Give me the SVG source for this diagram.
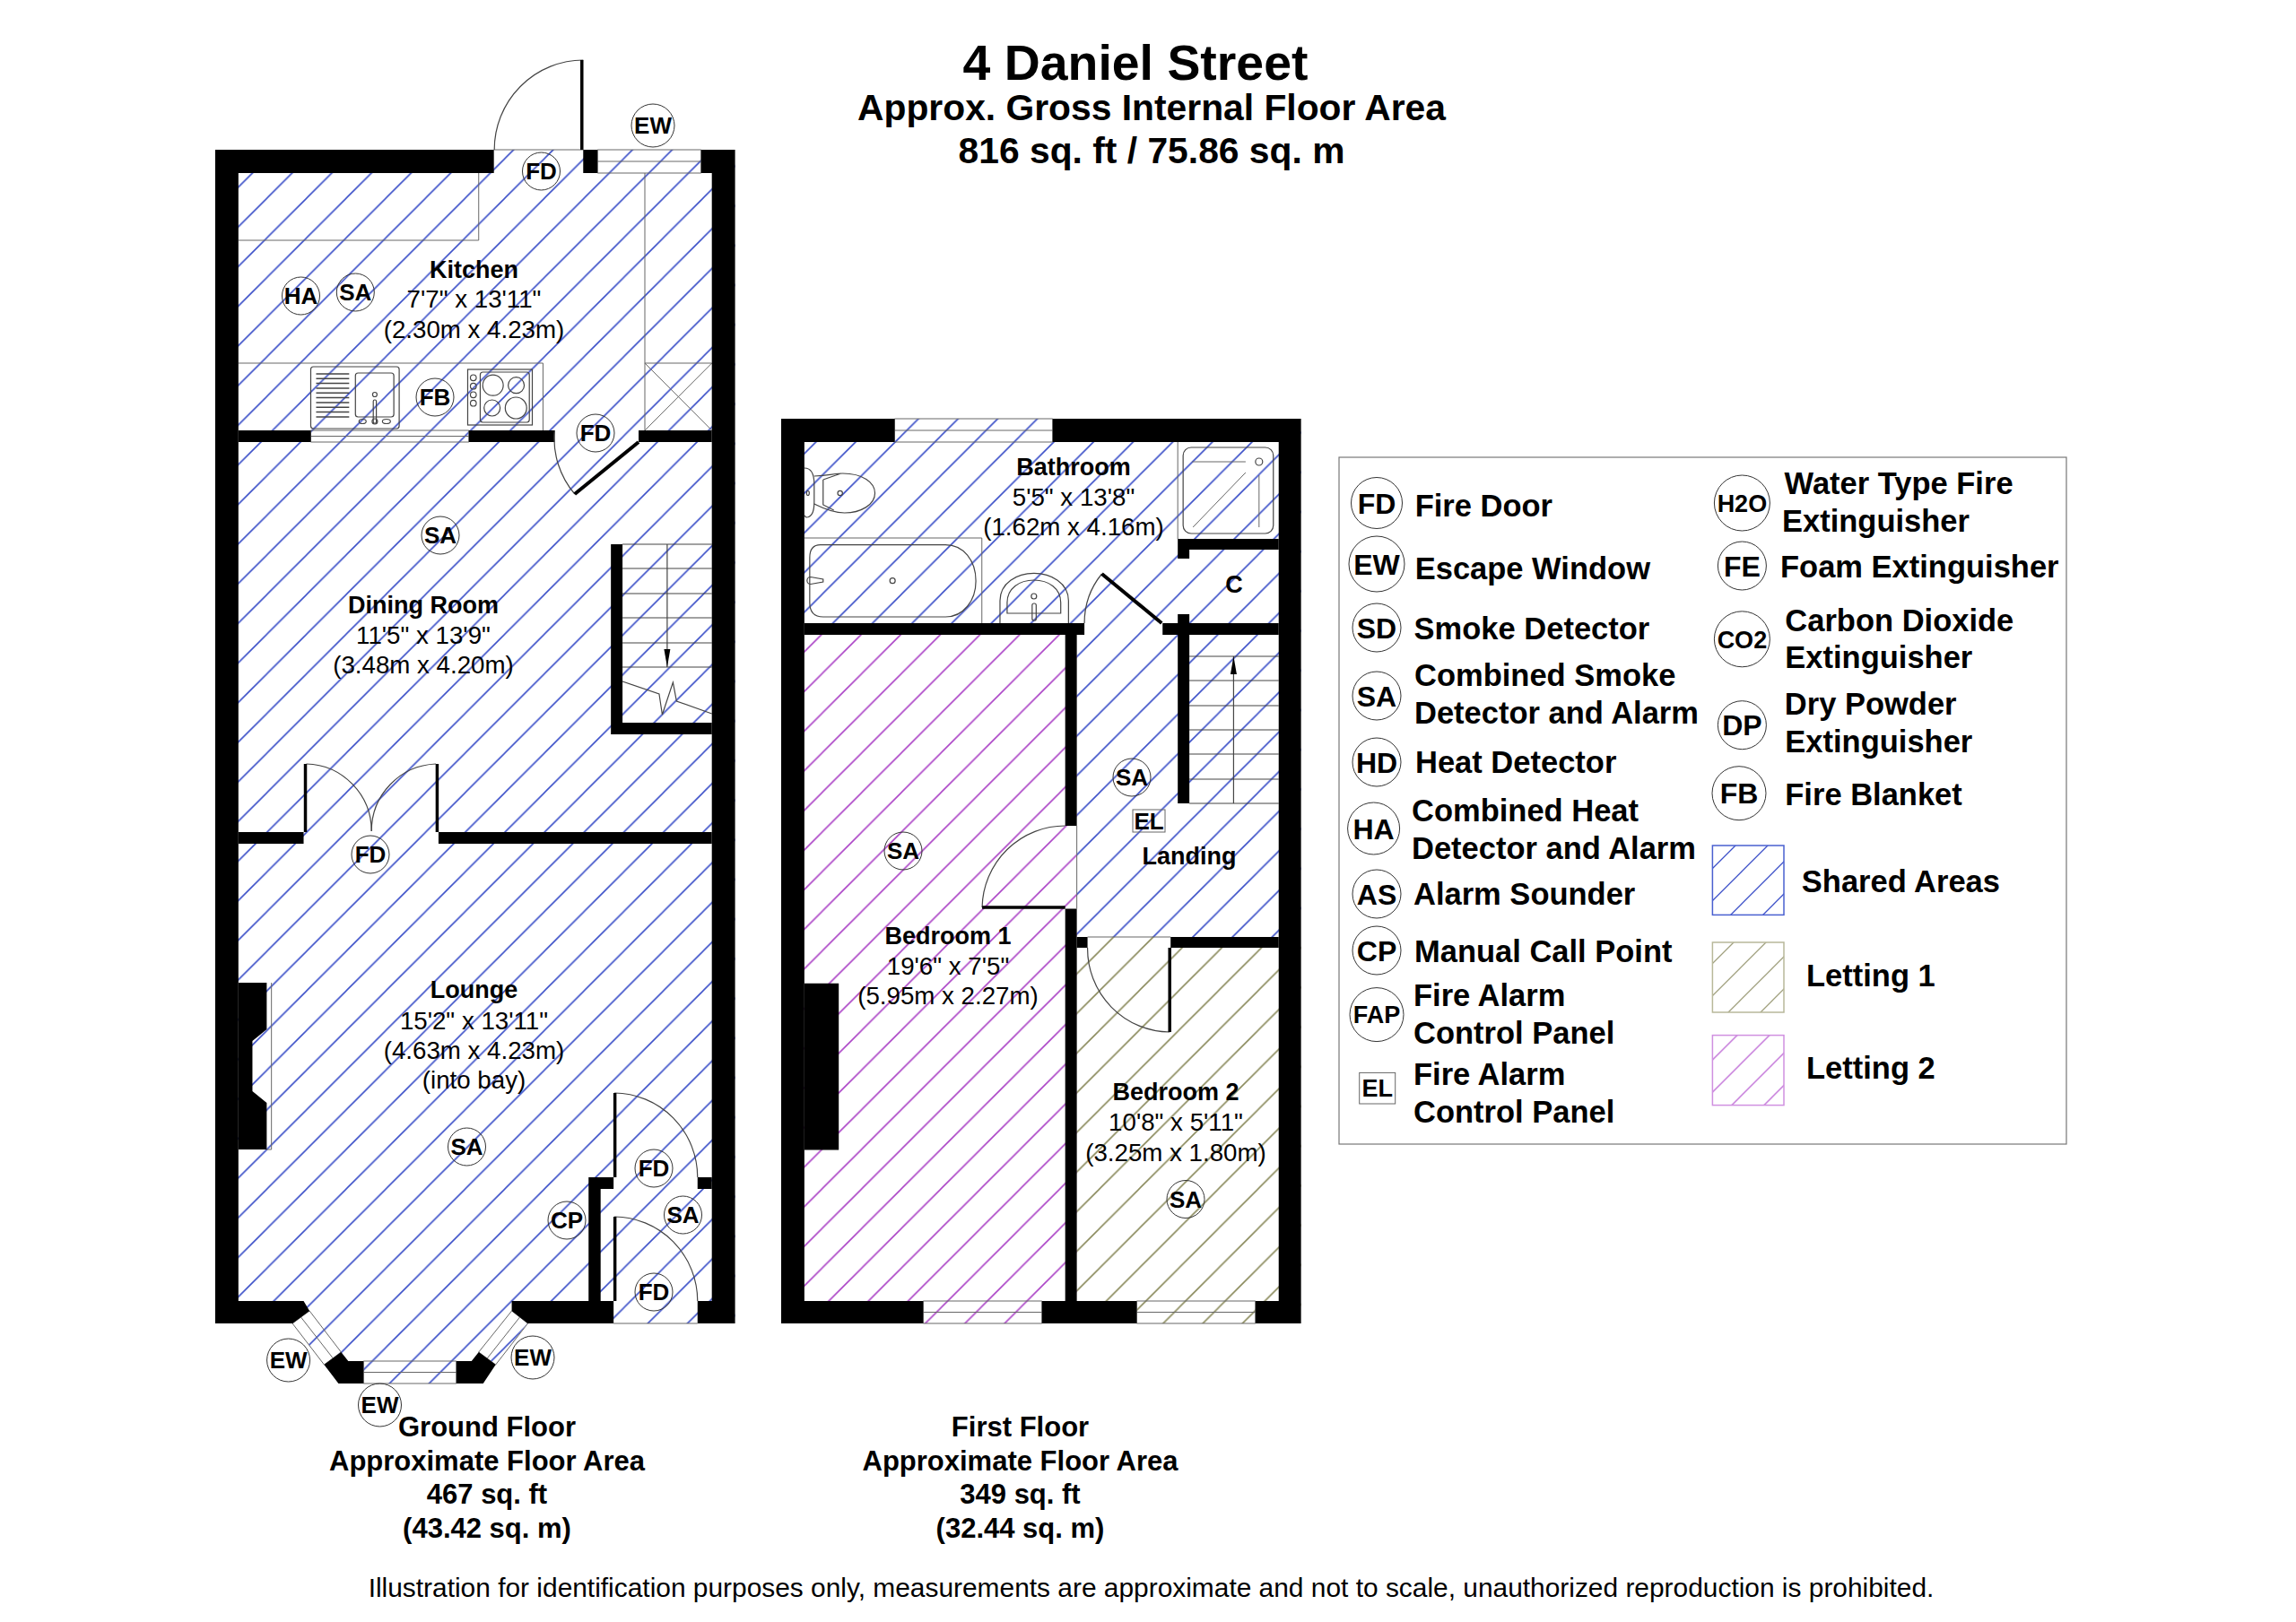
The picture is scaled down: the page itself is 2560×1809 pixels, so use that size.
<svg xmlns="http://www.w3.org/2000/svg" width="2560" height="1809" viewBox="0 0 2560 1809">
<style>
text{font-family:"Liberation Sans",Arial,sans-serif;fill:#000}
.b{font-weight:700;font-size:27px;text-anchor:middle}
.r{font-size:27.7px;text-anchor:middle}
.s{font-weight:700;font-size:26px;text-anchor:middle}
.t{font-weight:700;font-size:31px;text-anchor:middle}
.h{font-weight:700;font-size:40.8px;text-anchor:middle}
.l{font-weight:700;font-size:34.5px}
.k{font-weight:700;font-size:32px;text-anchor:middle}
.k2{font-weight:700;font-size:27px;text-anchor:middle}
.w{fill:#000;stroke:none}
.c{fill:none;stroke:#333;stroke-width:1}
.g{fill:none;stroke:#666;stroke-width:1}
.d{fill:none;stroke:#444;stroke-width:1.2}
.gx{transform:translate(220px,0) scale(.996,1) translate(-220px,0)}
.fx{transform:translate(860px,0) scale(.996,1) translate(-860px,0)}
</style>
<defs>
<pattern id="hb" patternUnits="userSpaceOnUse" width="44.2" height="44.2" patternTransform="translate(32.5 0)"><path d="M-4.42 4.42L4.42 -4.42M0 44.2L44.2 0M39.78 48.62L48.62 39.78" stroke="#3c50c8" stroke-width="1.6"/></pattern>
<pattern id="hp" patternUnits="userSpaceOnUse" width="44.2" height="44.2" patternTransform="translate(32.5 0)"><path d="M-4.42 4.42L4.42 -4.42M0 44.2L44.2 0M39.78 48.62L48.62 39.78" stroke="#ab44c6" stroke-width="1.6"/></pattern>
<pattern id="ho" patternUnits="userSpaceOnUse" width="44.2" height="44.2" patternTransform="translate(32.5 0)"><path d="M-4.42 4.42L4.42 -4.42M0 44.2L44.2 0M39.78 48.62L48.62 39.78" stroke="#8a8a5c" stroke-width="1.6"/></pattern>
<pattern id="lb" patternUnits="userSpaceOnUse" width="36" height="36" patternTransform="translate(34 0)"><path d="M-4 4L4 -4M0 36L36 0M32 40L40 32" stroke="#3c50c8" stroke-width="1.3"/></pattern>
<pattern id="lo" patternUnits="userSpaceOnUse" width="36" height="36" patternTransform="translate(32 0)"><path d="M-4 4L4 -4M0 36L36 0M32 40L40 32" stroke="#a0a07e" stroke-width="1.3"/></pattern>
<pattern id="lp" patternUnits="userSpaceOnUse" width="36" height="36" patternTransform="translate(31.5 0)"><path d="M-4 4L4 -4M0 36L36 0M32 40L40 32" stroke="#bc66d4" stroke-width="1.3"/></pattern>
</defs>
<rect width="2560" height="1809" fill="#fff"/>
<g id="title">
<text x="1266" y="88.5" style="font-weight:700;font-size:55.4px;text-anchor:middle">4 Daniel Street</text>
<text x="1284" y="134" class="h">Approx. Gross Internal Floor Area</text>
<text x="1284" y="182" class="h">816 sq. ft / 75.86 sq. m</text>
</g>
<g id="ground-floor">
<path fill="url(#hb)" d="M240 167H819.6V1476H588L552.5 1522L538 1543H377.5L361.5 1522L326 1476H240Z"/>
<g id="ground-fixtures" class="gx">
<path class="g" d="M266 268H535V193M721 193V480M266 405H607V480M721 405H796M721 405L796 480M796 405L721 480M303 1096V1282H297"/>
<path class="g" d="M552 167H652M668 167H784V193H668ZM668 180H784M347 480H524V493H347ZM347 486.5H524M406 1518H510V1543H406ZM406 1530.5H510M686 1476H780M345.6 1462L326.5 1476L362 1522L381 1508ZM336 1469L372 1515M572 1462L590 1476L554 1522L535 1508ZM581 1469L544.5 1515"/>
<rect class="d" x="347" y="409" width="99" height="69" rx="3"/>
<path class="d" d="M353 417H390M353 422.3H390M353 427.6H390M353 433H390M353 438.3H390M353 443.6H390M353 449H390M353 454.3H390M353 459.6H390M353 465H390" style="stroke-width:1.5"/>
<rect class="d" x="397" y="416" width="43" height="49" rx="3"/>
<circle class="d" cx="418.7" cy="440" r="2.5"/><rect class="d" x="417" y="446" width="3.4" height="26" rx="1.5"/><circle class="d" cx="418.7" cy="470" r="3"/><ellipse class="d" cx="405" cy="470" rx="4" ry="2.5"/><ellipse class="d" cx="431.7" cy="470" rx="4.5" ry="2.5"/>
<rect class="d" x="522.7" y="412" width="72.3" height="62"/>
<rect class="d" x="536.7" y="415" width="55" height="56" rx="3"/>
<circle class="d" cx="529" cy="421.3" r="3.3"/><circle class="d" cx="529" cy="430.7" r="3.3"/><circle class="d" cx="529" cy="440.3" r="3.3"/><circle class="d" cx="529" cy="449.7" r="3.3"/>
<circle class="d" cx="551" cy="429.7" r="11.5"/><circle class="d" cx="577" cy="429.7" r="9"/><circle class="d" cx="550" cy="455" r="9"/><circle class="d" cx="576.7" cy="455" r="12"/>
<path class="d" d="M696 607H796M696 634H796M696 662H796M696 689H796M696 717H796M696 744H796M746 607V744"/>
<path fill="#000" d="M742.5 724H749.5L746 744Z"/>
<path class="d" d="M696 760L737 774L740.5 797L752.5 761L756.5 782L796 796"/>
</g>
<g id="ground-walls" class="gx">
<path class="w" d="M240 167H552V193H266V1101H240ZM652 167H668V193H652ZM784 167H822V1476H780V1451H796V193H784ZM240 1096H266V1451H339L345.6 1462L326.5 1476H240Z"/>
<path class="w" d="M266 480H347V493H266ZM524 480H620V493H524ZM714 480H796V493H714ZM683 607H696V806H796V819H683ZM266 928H339V941H266ZM490 928H796V941H490Z"/>
<path class="w" d="M266 1096H297.7V1148L281.7 1161V1217L297.7 1230V1282H266Z"/>
<path class="w" d="M658 1313H686V1326H671.5V1451H686V1476H590L572 1462V1451H658ZM780 1313H796V1326H780Z"/>
<path class="w" d="M381 1508L389 1518H406V1543H378L362 1522ZM535 1508L527 1518H510V1543H540L554 1522Z"/>
</g>
<g id="ground-doors" class="gx">
<path class="d" d="M552.5 167A100 100 0 0 1 652 67"/><path d="M650.5 67V167" stroke="#000" stroke-width="3.5"/>
<path class="d" d="M620 480A95 95 0 0 0 642.5 551"/><path d="M714 493L642.5 551" stroke="#000" stroke-width="4"/>
<path class="d" d="M342 852A75 75 0 0 1 415 927"/><path d="M341 852V928" stroke="#000" stroke-width="3.5"/>
<path class="d" d="M487 852A75 75 0 0 0 415 927"/><path d="M488.5 852V928" stroke="#000" stroke-width="3.5"/>
<path class="d" d="M687 1219A94 94 0 0 1 780 1313"/><path d="M687.5 1219V1313" stroke="#000" stroke-width="3.5"/>
<path class="d" d="M687 1357A94 94 0 0 1 780 1451"/><path d="M687.5 1357V1451" stroke="#000" stroke-width="3.5"/>
</g>
<g id="ground-labels">
<text x="528.5" y="310" class="b">Kitchen</text><text x="528.5" y="343" class="r">7'7" x 13'11"</text><text x="528.5" y="377" class="r">(2.30m x 4.23m)</text>
<text x="472" y="684" class="b">Dining Room</text><text x="472" y="718" class="r">11'5" x 13'9"</text><text x="472" y="751" class="r">(3.48m x 4.20m)</text>
<text x="528.5" y="1113" class="b">Lounge</text><text x="528.5" y="1148" class="r">15'2" x 13'11"</text><text x="528.5" y="1181" class="r">(4.63m x 4.23m)</text><text x="528.5" y="1214" class="r">(into bay)</text>
</g>
<g id="ground-symbols">
<circle class="c" cx="728" cy="140" r="24"/><text x="728" y="149" class="s">EW</text>
<circle class="c" cx="603.5" cy="191" r="21"/><text x="603.5" y="200" class="s">FD</text>
<circle class="c" cx="335.5" cy="330" r="21"/><text x="335.5" y="339" class="s">HA</text>
<circle class="c" cx="396.3" cy="326" r="21"/><text x="396.3" y="335" class="s">SA</text>
<circle class="c" cx="485" cy="443" r="21"/><text x="485" y="452" class="s">FB</text>
<circle class="c" cx="664" cy="483" r="21"/><text x="664" y="492" class="s">FD</text>
<circle class="c" cx="491" cy="597" r="21"/><text x="491" y="606" class="s">SA</text>
<circle class="c" cx="413" cy="953" r="21"/><text x="413" y="962" class="s">FD</text>
<circle class="c" cx="520.5" cy="1279" r="21"/><text x="520.5" y="1288" class="s">SA</text>
<circle class="c" cx="729" cy="1303" r="21"/><text x="729" y="1312" class="s">FD</text>
<circle class="c" cx="632" cy="1361" r="21"/><text x="632" y="1370" class="s">CP</text>
<circle class="c" cx="761.5" cy="1355" r="21"/><text x="761.5" y="1364" class="s">SA</text>
<circle class="c" cx="729" cy="1441" r="21"/><text x="729" y="1450" class="s">FD</text>
<circle class="c" cx="321.6" cy="1517" r="24"/><text x="321.6" y="1526" class="s">EW</text>
<circle class="c" cx="594" cy="1514" r="24"/><text x="594" y="1523" class="s">EW</text>
<circle class="c" cx="423.5" cy="1567" r="24"/><text x="423.5" y="1576" class="s">EW</text>
</g>
<g id="ground-caption">
<text x="543" y="1601.5" class="t">Ground Floor</text><text x="543" y="1639.5" class="t">Approximate Floor Area</text><text x="543" y="1677" class="t">467 sq. ft</text><text x="543" y="1714.5" class="t">(43.42 sq. m)</text>
</g>
</g>
<g id="first-floor">
<path fill="url(#hb)" d="M871 467H1450.6V1045H1200.6V701H871Z"/>
<path fill="url(#hp)" d="M871 701H1200.6V1476H871Z"/>
<path fill="url(#ho)" d="M1200.6 1045H1450.6V1476H1200.6Z"/>
<g id="first-fixtures" class="fx">
<path class="g" d="M998 467H1175V493H998ZM998 480H1175M1030 1451H1163V1476H1030ZM1030 1463.5H1163M1269 1451H1402V1476H1269ZM1269 1463.5H1402M1202 921V1013.5M1214 1045H1307M1315 493V601"/>
<rect class="d" x="1321" y="499" width="101" height="96" rx="9"/>
<path class="g" d="M1331 515H1391M1406 530V588M1391 527L1332 588"/>
<circle class="d" cx="1406" cy="515" r="4"/>
<path class="d" d="M897 522C906 522 908 530 908 540V560C908 570 906 577 899 577L897 575"/>
<path class="d" d="M908 531C925 530 932 528 940 528C962 528 976 538 976 550C976 563 960 572 942 572C930 572 920 568 908 562M918 535V563L930 569M918 535L938 528"/>
<circle class="d" cx="937" cy="550" r="2.7"/><ellipse class="d" cx="901" cy="550" rx="1.5" ry="2.5"/>
<path class="g" d="M897 600H1095.7V695"/>
<path class="d" d="M915 607.7H1055C1075 607.7 1089 625 1089 648C1089 670 1075 688 1055 688H918Q903 688 903 672V622Q903 607.7 915 607.7Z"/>
<circle class="d" cx="995.7" cy="647.7" r="3"/>
<path class="d" d="M904 643.5L918 646V649L904 651.5A4 4 0 1 1 904 643.5Z"/>
<path class="d" d="M1116 695V670C1116 650 1135 639.3 1154 639.3C1173 639.3 1192.7 650 1192.7 670V695M1124 684V672C1124 656 1138 647 1154 647C1170 647 1184 656 1184 672V684Z"/>
<circle class="d" cx="1154" cy="665" r="3"/><rect class="d" x="1152" y="673" width="4.5" height="19" rx="2"/>
<path class="d" d="M1328 732H1428M1328 759H1428M1328 787H1428M1328 814H1428M1328 841H1428M1328 869H1428M1328 896H1428M1377.5 732V896"/>
<path fill="#000" d="M1377.5 732L1381 752H1374Z"/>
</g>
<g id="first-walls" class="fx">
<path class="w" d="M871 467H998V493H897V1451H1030V1476H871ZM1175 467H1453V1476H1402V1451H1428V493H1175ZM1163 1451H1269V1476H1163Z"/>
<path class="w" d="M897 695H1210.5V708H1202V921H1189V708H897ZM1189 1013.5H1202V1451H1189ZM1298 695H1428V708H1328V896H1315V708H1298ZM1315 685H1328V695H1315ZM1315 601H1428V613H1328V623H1315Z"/>
<path class="w" d="M1202 1045H1214V1057H1202ZM1307 1045H1428V1057H1307ZM897 1096.7H935.5V1282.5H897Z"/>
</g>
<g id="first-doors" class="fx">
<path class="d" d="M1230 640A86.5 86.5 0 0 0 1210.5 695"/><path d="M1297 695L1230 640" stroke="#000" stroke-width="4"/>
<path class="d" d="M1096 1012A93 93 0 0 1 1189 921"/><path d="M1096 1012H1189" stroke="#000" stroke-width="3.5"/>
<path class="d" d="M1214 1057A93 93 0 0 0 1306 1151"/><path d="M1306 1057V1151" stroke="#000" stroke-width="3.5"/>
</g>
<g id="first-labels">
<text x="1197" y="530" class="b">Bathroom</text><text x="1197" y="564" class="r">5'5" x 13'8"</text><text x="1197" y="597" class="r">(1.62m x 4.16m)</text>
<text x="1376" y="661" class="b">C</text>
<text x="1326" y="964" class="b">Landing</text>
<text x="1057" y="1053" class="b">Bedroom 1</text><text x="1057" y="1087" class="r">19'6" x 7'5"</text><text x="1057" y="1120" class="r">(5.95m x 2.27m)</text>
<text x="1311" y="1227" class="b">Bedroom 2</text><text x="1311" y="1261" class="r">10'8" x 5'11"</text><text x="1311" y="1295" class="r">(3.25m x 1.80m)</text>
</g>
<g id="first-symbols">
<circle class="c" cx="1262" cy="867" r="21"/><text x="1262" y="876" class="s">SA</text>
<rect class="g" x="1263" y="903" width="36" height="25"/><text x="1281" y="925" class="s">EL</text>
<circle class="c" cx="1007" cy="949" r="21"/><text x="1007" y="958" class="s">SA</text>
<circle class="c" cx="1322" cy="1337.5" r="21"/><text x="1322" y="1346.5" class="s">SA</text>
</g>
<g id="first-caption">
<text x="1137.5" y="1601.5" class="t">First Floor</text><text x="1137.5" y="1639.5" class="t">Approximate Floor Area</text><text x="1137.5" y="1677" class="t">349 sq. ft</text><text x="1137.5" y="1714.5" class="t">(32.44 sq. m)</text>
</g>
</g>
<g id="legend">
<rect x="1493" y="510" width="811" height="766" fill="none" stroke="#777" stroke-width="1.2"/>
<g id="leg-fd"><circle class="c" cx="1535" cy="561" r="28.5"/><text x="1535" y="572.5" class="k">FD</text><text x="1577.7" y="575.5" class="l">Fire Door</text></g>
<g id="leg-ew"><circle class="c" cx="1535" cy="629" r="31"/><text x="1535" y="640.5" class="k">EW</text><text x="1577.7" y="646.4" class="l">Escape Window</text></g>
<g id="leg-sd"><circle class="c" cx="1535" cy="700" r="27"/><text x="1535" y="711.5" class="k">SD</text><text x="1576.6" y="713" class="l">Smoke Detector</text></g>
<g id="leg-sa"><circle class="c" cx="1535" cy="776" r="27"/><text x="1535" y="787.5" class="k">SA</text><text x="1577" y="765.3" class="l">Combined Smoke</text><text x="1577" y="806.6" class="l">Detector and Alarm</text></g>
<g id="leg-hd"><circle class="c" cx="1535" cy="850" r="27"/><text x="1535" y="861.5" class="k">HD</text><text x="1578" y="862" class="l">Heat Detector</text></g>
<g id="leg-ha"><circle class="c" cx="1531.6" cy="924" r="29"/><text x="1531.6" y="935.5" class="k">HA</text><text x="1574" y="915.8" class="l">Combined Heat</text><text x="1574" y="957.7" class="l">Detector and Alarm</text></g>
<g id="leg-as"><circle class="c" cx="1535" cy="997" r="27"/><text x="1535" y="1008.5" class="k">AS</text><text x="1576" y="1009" class="l">Alarm Sounder</text></g>
<g id="leg-cp"><circle class="c" cx="1535" cy="1060" r="27"/><text x="1535" y="1071.5" class="k">CP</text><text x="1577" y="1073" class="l">Manual Call Point</text></g>
<g id="leg-fap"><circle class="c" cx="1535" cy="1131.6" r="30"/><text x="1535" y="1141.3" class="k2">FAP</text><text x="1576" y="1122" class="l">Fire Alarm</text><text x="1576" y="1163.8" class="l">Control Panel</text></g>
<g id="leg-el"><rect class="g" x="1515.7" y="1196.4" width="40" height="34.6"/><text x="1535.7" y="1223" class="k2">EL</text><text x="1576" y="1210" class="l">Fire Alarm</text><text x="1576" y="1252" class="l">Control Panel</text></g>
<g id="leg-h2o"><circle class="c" cx="1942.4" cy="561" r="31"/><text x="1942.4" y="570.7" class="k2">H2O</text><text x="1989.6" y="551" class="l">Water Type Fire</text><text x="1987" y="593" class="l">Extinguisher</text></g>
<g id="leg-fe"><circle class="c" cx="1942.4" cy="631" r="27"/><text x="1942.4" y="642.5" class="k">FE</text><text x="1985" y="644.4" class="l">Foam Extinguisher</text></g>
<g id="leg-co2"><circle class="c" cx="1942.4" cy="712.8" r="31"/><text x="1942.4" y="722.5" class="k2">CO2</text><text x="1990.3" y="704" class="l">Carbon Dioxide</text><text x="1990.3" y="745.4" class="l">Extinguisher</text></g>
<g id="leg-dp"><circle class="c" cx="1942.4" cy="808.7" r="27"/><text x="1942.4" y="820.2" class="k">DP</text><text x="1989.8" y="797" class="l">Dry Powder</text><text x="1990.3" y="838.8" class="l">Extinguisher</text></g>
<g id="leg-fb"><circle class="c" cx="1939" cy="884.7" r="30"/><text x="1939" y="896.2" class="k">FB</text><text x="1990.3" y="897.5" class="l">Fire Blanket</text></g>
<g id="leg-shared"><rect x="1909.4" y="943" width="79.6" height="77.4" fill="url(#lb)" stroke="#4a60d0" stroke-width="1.5"/><text x="2008.8" y="995" class="l">Shared Areas</text></g>
<g id="leg-l1"><rect x="1909.4" y="1051" width="79.6" height="78" fill="url(#lo)" stroke="#b8b89a" stroke-width="1.5"/><text x="2014" y="1099.5" class="l">Letting 1</text></g>
<g id="leg-l2"><rect x="1909.4" y="1154.6" width="79.6" height="78" fill="url(#lp)" stroke="#d090e0" stroke-width="1.5"/><text x="2014" y="1202.6" class="l">Letting 2</text></g>
</g>
<text x="1283.5" y="1780.5" style="font-size:29.9px;text-anchor:middle">Illustration for identification purposes only, measurements are approximate and not to scale, unauthorized reproduction is prohibited.</text>
</svg>
